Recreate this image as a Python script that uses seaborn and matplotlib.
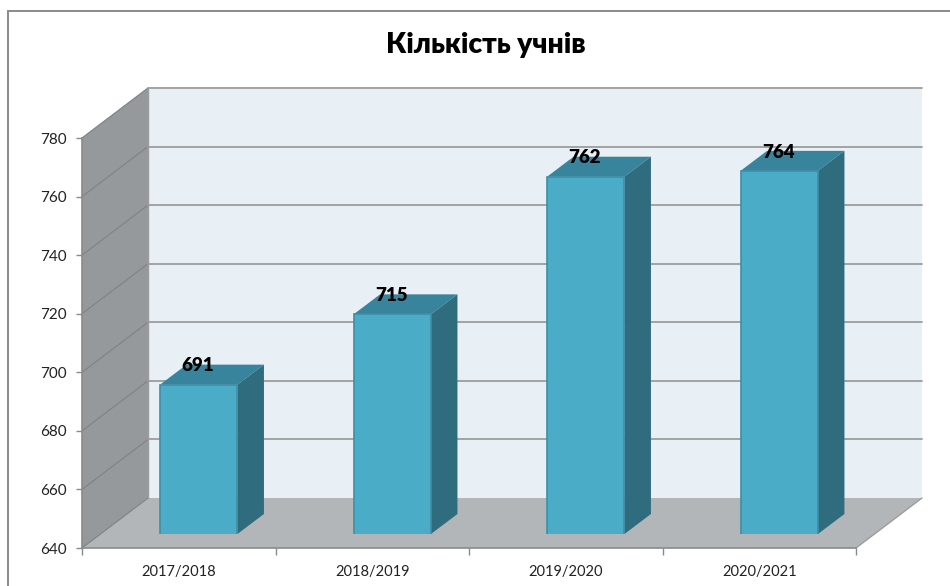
import matplotlib
matplotlib.use('Agg')
import matplotlib.pyplot as plt
import seaborn as sns
from matplotlib.patches import Polygon, Rectangle
from matplotlib.transforms import IdentityTransform

# Data
years = ['2017/2018', '2018/2019', '2019/2020', '2020/2021']
pupils = [691, 715, 762, 764]
y_ticks = [640, 660, 680, 700, 720, 740, 760, 780]
title = 'Кількість учнів'

# Colours
front_col = '#4aacc7'
top_col = '#37849c'
side_col = '#2f6c7e'
edge_col = '#3f8ea6'
wall_col = '#96999c'
floor_col = '#b2b6b9'
back_col = '#e8eff5'
grid_col = '#9c9c9c'
wall_grid_col = '#828588'

W, H = 950, 586
sns.set_theme(style='white')
plt.rcParams['font.family'] = ['Lato', 'Open Sans', 'DejaVu Sans']
fig = plt.figure(figsize=(W / 100, H / 100), dpi=100)

# front plane of the chart box, pixels from top left
left, right, top, bottom = 82, 856, 138, 548
depth_x, depth_y = 66, 50        # wall depth
bar_dx, bar_dy = 20, 14          # bars stand a bit inside the floor
side_dx, side_dy = 26.5, 20      # bar depth


def make_axes(dx=0, dy=0):
    return fig.add_axes([(left + dx) / W, (H - bottom + dy) / H,
                         (right - left) / W, (bottom - top) / H])


ax = make_axes()
ax.set_xlim(-0.5, 3.5)
ax.set_ylim(640, 780)
ax.patch.set_visible(False)


def px_face(points, color, target=None, **kw):
    # points are pixels from the bottom left of the figure
    p = Polygon(points, closed=True, facecolor=color, edgecolor=kw.pop('ec', 'none'),
                transform=IdentityTransform(), clip_on=False, **kw)
    (target or ax).add_patch(p)


x0, x1, y0, y1 = left, right, H - bottom, H - top
px_face([(x0 + depth_x, y0 + depth_y), (x1 + depth_x, y0 + depth_y),
         (x1 + depth_x, y1 + depth_y), (x0 + depth_x, y1 + depth_y)], back_col, zorder=0)
px_face([(x0, y0), (x0 + depth_x, y0 + depth_y), (x0 + depth_x, y1 + depth_y), (x0, y1)],
        wall_col, zorder=0)
px_face([(x0, y0), (x1, y0), (x1 + depth_x, y0 + depth_y), (x0 + depth_x, y0 + depth_y)],
        floor_col, zorder=0)

# gridlines go along the wall and then across the back
for t in y_ticks:
    ypx = ax.transData.transform((0, t))[1]
    ax.plot([x0, x0 + depth_x], [ypx, ypx + depth_y], color=wall_grid_col, lw=0.9,
            transform=IdentityTransform(), clip_on=False, zorder=1)
    if t != 640:
        ax.plot([x0 + depth_x, x1 + depth_x], [ypx + depth_y, ypx + depth_y], color=grid_col, lw=1.3,
                transform=IdentityTransform(), clip_on=False, zorder=1)
ax.plot([x0 + depth_x, x0 + depth_x], [y0 + depth_y, y1 + depth_y], color=grid_col, lw=1,
        transform=IdentityTransform(), clip_on=False, zorder=1)
ax.plot([x1, x1 + depth_x], [y0, y0 + depth_y], color=grid_col, lw=1,
        transform=IdentityTransform(), clip_on=False, zorder=1)

# axes
ax.set_yticks(y_ticks)
ax.set_xticks(range(len(years)))
ax.set_xticklabels(years)
ax.set_xticks([-0.5, 0.5, 1.5, 2.5, 3.5], minor=True)
ax.tick_params(axis='y', length=4, width=1, color='#8a8a8a', labelsize=11, pad=7, labelcolor='#222222', left=True)
ax.tick_params(axis='x', which='major', length=0, labelsize=10.5, pad=12, labelcolor='#222222')
ax.tick_params(axis='x', which='minor', length=5, width=1, color='#8a8a8a', bottom=True)
for name, spine in ax.spines.items():
    spine.set_visible(name in ('left', 'bottom'))
    spine.set_color('#8a8a8a')
    spine.set_linewidth(1.2)

# bars on their own axes, shifted onto the floor
bar_ax = make_axes(bar_dx, bar_dy)
bar_ax.patch.set_visible(False)
sns.barplot(x=years, y=pupils, ax=bar_ax, color=front_col, saturation=1, width=0.4,
            edgecolor=edge_col, linewidth=1.2, zorder=3)
bar_ax.set_xlim(-0.5, 3.5)
bar_ax.set_ylim(640, 780)
bar_ax.axis('off')

for patch, val in zip(bar_ax.patches, pupils):
    a = bar_ax.transData.transform((patch.get_x(), 640))
    b = bar_ax.transData.transform((patch.get_x() + patch.get_width(), val))
    px_face([(a[0], b[1]), (b[0], b[1]), (b[0] + side_dx, b[1] + side_dy), (a[0] + side_dx, b[1] + side_dy)],
            top_col, target=bar_ax, zorder=2)
    px_face([(b[0], a[1]), (b[0] + side_dx, a[1] + side_dy), (b[0] + side_dx, b[1] + side_dy), (b[0], b[1])],
            side_col, target=bar_ax, zorder=2)
    bar_ax.annotate(str(val), (patch.get_x() + patch.get_width() / 2, val), xytext=(-0.5, 13.5),
                    textcoords='offset points', ha='center', va='center',
                    fontsize=13.5, fontweight='heavy', color='black', zorder=5, annotation_clip=False)

fig.text(486 / W, 1 - 45 / H, title, ha='center', va='center', fontsize=20.3, fontweight='heavy', color='black')

# outer frame of the chart area
fig.add_artist(Rectangle((7.5 / W, -0.01), 1.1, 1 - 10.5 / H + 0.01, transform=fig.transFigure,
                         facecolor='none', edgecolor='#8a8a8a', linewidth=1.4))

fig.savefig('out.png', dpi=100)
